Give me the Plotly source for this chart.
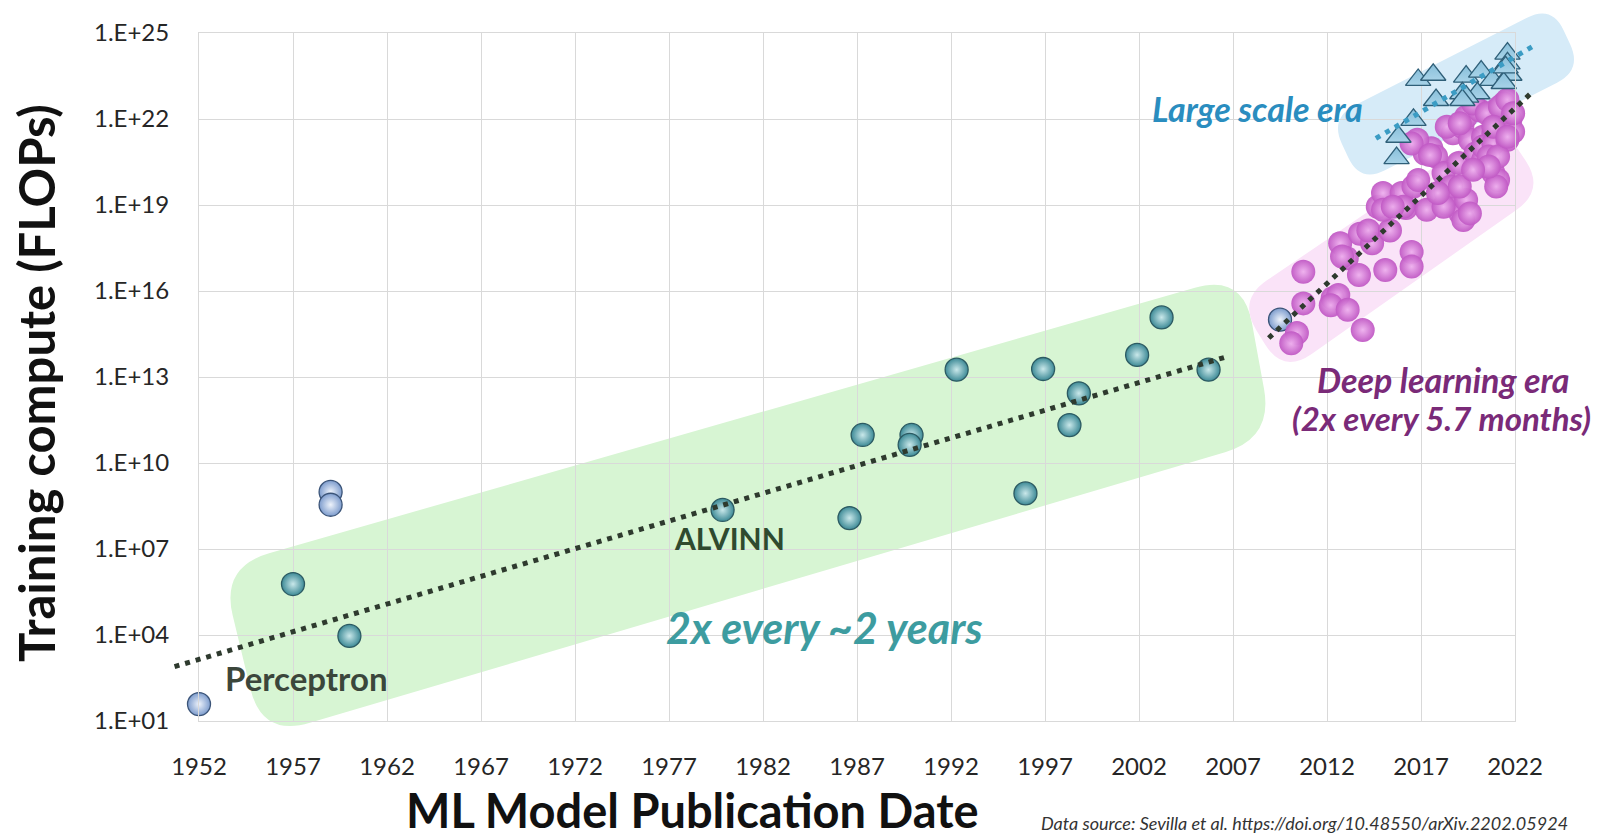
import math
import plotly.graph_objects as go

# ---------------- data ----------------
early_years = [1957.0, 1960.0, 1979.85, 1986.6, 1987.3, 1989.9, 1989.8, 1992.3, 1996.9,
               1998.8, 1998.3, 1995.96, 2001.9, 2003.2, 2005.7]
early_flops = [6.0e5, 9.3e3, 2.3e8, 1.2e8, 9.5e10, 9.5e10, 4.3e10, 1.8e13, 1.9e13,
               2.7e12, 2.1e11, 8.7e8, 5.9e13, 1.2e15, 1.8e13]

other_years = [1952.0, 1959.0, 1959.0, 2009.5]
other_flops = [3.9e1, 9.8e8, 3.5e8, 1.0e15]

dl_years = [2010.74, 2010.74, 2010.4, 2010.1, 2012.3, 2012.6, 2012.2, 2013.1, 2013.9, 2012.7,
            2013.05, 2013.7, 2013.75, 2014.4, 2014.2, 2014.7, 2014.98, 2015.35, 2015.1, 2015.97,
            2016.2, 2016.5, 2016.5, 2016.6, 2012.8, 2014.98, 2016.06, 2016.85, 2017.3, 2017.2,
            2017.55, 2017.8, 2018.2, 2018.3, 2018.35, 2018.6, 2019.1, 2019.25, 2019.0, 2018.7,
            2019.2, 2019.4, 2019.6, 2019.9, 2020.3, 2020.5, 2020.85, 2021.1, 2020.3, 2020.85,
            2021.4, 2021.75, 2021.9, 2021.4, 2021.0, 2020.1, 2019.78, 2020.3, 2020.85, 2021.6,
            2019.4, 2019.6, 2018.2, 2017.9, 2020.6, 2021.1, 2021.0, 2020.6, 2015.5, 2016.8,
            2016.5, 2017.48, 2018.37, 2019.06, 2020.5, 2021.2, 2021.6, 2021.9, 2020.85, 2021.6,
            2019.06, 2019.77]
dl_flops = [4.7e16, 3.7e15, 3.4e14, 1.5e14, 5.6e15, 7.2e15, 3.2e15, 2.2e15, 4.4e14, 4.6e17,
            1.4e17, 3.6e16, 1.0e18, 4.6e17, 1.3e18, 8.7e18, 2.6e19, 1.3e18, 5.4e16, 2.6e19,
            7.8e18, 2.3e17, 7.1e16, 4.4e19, 1.6e17, 6.8e18, 8.7e18, 7.4e19, 6.8e18, 6.3e20,
            9.5e20, 4.9e20, 1.3e20, 2.9e19, 1.1e19, 4.4e19, 5.1e18, 3.0e18, 2.9e20, 3.2e21,
            5.4e21, 1.2e22, 1.9e21, 6.3e20, 3.7e20, 2.2e20, 1.3e20, 7.4e19, 2.4e21, 3.2e21,
            5.4e21, 9.3e21, 3.6e21, 3.5e22, 2.0e22, 2.0e22, 3.5e22, 1.1e21, 1.4e21, 1.9e21,
            1.5e19, 5.1e18, 8.7e18, 2.6e19, 4.9e20, 4.9e20, 4.4e19, 2.2e20, 8.7e18, 1.9e21,
            1.4e21, 5.5e20, 5.4e21, 7.1e21, 1.6e22, 2.7e22, 4.7e22, 1.6e22, 5.4e21, 2.4e21,
            4.4e19, 1.7e20]

ls_years = [2015.7, 2015.8, 2016.6, 2016.85, 2017.65, 2017.8, 2019.4, 2019.2, 2020.2,
            2020.0, 2020.8, 2021.6, 2021.6, 2021.7, 2021.4, 2019.4, 2019.2, 2021.5]
ls_flops = [4.3e20, 2.4e21, 9.3e21, 2.3e23, 3.5e23, 4.6e22, 3.0e23, 7.9e22, 4.5e23,
            7.9e22, 2.3e23, 1.9e24, 8.7e23, 3.5e23, 1.8e23, 6.0e22, 4.6e22, 6.3e23]

trend_early_x = [1950.7, 2006.8]
trend_early_y = [7.9e2, 5.4e13]
trend_dl_x = [2008.9, 2023.0]
trend_dl_y = [2.3e14, 9.8e22]
trend_ls_x = [2014.6, 2022.9]
trend_ls_y = [2.1e21, 3.3e24]

x_ticks = list(range(1952, 2023, 5))
y_tick_vals = [1e1, 1e4, 1e7, 1e10, 1e13, 1e16, 1e19, 1e22, 1e25]
y_tick_text = ["1.E+01", "1.E+04", "1.E+07", "1.E+10", "1.E+13", "1.E+16",
               "1.E+19", "1.E+22", "1.E+25"]

# ---------------- layout geometry ----------------
OFF = 0
SW, SH = 1603, 838
FW, FH = SW - 2 * OFF, SH - 2 * OFF
PL, PR, PT, PB = 199, 1515, 33, 721      # plot area in window pixels
X0, X1 = 1952, 2022
LY0, LY1 = 1, 25

def px(x):
    return (x - OFF) / FW

def py(y):
    return 1 - (y - OFF) / FH

xs = (X1 - X0) / (PR - PL)
ys = (LY1 - LY0) / (PB - PT)
x2_range = [X0 - (PL - OFF) * xs, X1 + (SW - OFF - PR) * xs]
y2_range = [LY0 - (SH - OFF - PB) * ys, LY1 + (PT - OFF) * ys]

FONT = "Lato"

def rounded_path(pts, r):
    n = len(pts)
    segs = []
    for i in range(n):
        p0, p1, p2 = pts[i - 1], pts[i], pts[(i + 1) % n]
        d1 = (p0[0] - p1[0], p0[1] - p1[1]); l1 = math.hypot(*d1)
        d2 = (p2[0] - p1[0], p2[1] - p1[1]); l2 = math.hypot(*d2)
        a = (p1[0] + d1[0] / l1 * r, p1[1] + d1[1] / l1 * r)
        b = (p1[0] + d2[0] / l2 * r, p1[1] + d2[1] / l2 * r)
        segs.append((a, p1, b))
    path = f"M {px(segs[0][0][0]):.5f},{py(segs[0][0][1]):.5f}"
    for i, (a, c, b) in enumerate(segs):
        if i > 0:
            path += f" L {px(a[0]):.5f},{py(a[1]):.5f}"
        path += f" Q {px(c[0]):.5f},{py(c[1]):.5f} {px(b[0]):.5f},{py(b[1]):.5f}"
    return path + " Z"

green_band = [(221, 567), (1243, 274), (1273, 438), (262, 737)]
pink_band = [(1238, 300), (1500, 122), (1545, 190), (1283, 374)]
blue_band = [(1330, 118), (1552, 5), (1582, 70), (1360, 183)]

shapes = [
    dict(type="path", xref="paper", yref="paper", path=rounded_path(green_band, 50),
         fillcolor="#d7f5d3", line=dict(width=0), layer="below"),
    dict(type="path", xref="paper", yref="paper", path=rounded_path(pink_band, 35),
         fillcolor="#fae3f8", line=dict(width=0), layer="below"),
    dict(type="path", xref="paper", yref="paper", path=rounded_path(blue_band, 28),
         fillcolor="#d6ebf8", line=dict(width=0), layer="below"),
]

fig = go.Figure()

fig.add_trace(go.Scatter(
    x=early_years, y=early_flops, mode="markers", cliponaxis=False,
    marker=dict(size=23, color="#3d8a96", gradient=dict(type="radial", color="#c9e8ea"),
                line=dict(color="#2c5a62", width=1.3)),
    showlegend=False, hoverinfo="skip"))
fig.add_trace(go.Scatter(
    x=other_years, y=other_flops, mode="markers", cliponaxis=False,
    marker=dict(size=23, color="#7d9ccd", gradient=dict(type="radial", color="#eef3fb"),
                line=dict(color="#3b5478", width=1.3)),
    showlegend=False, hoverinfo="skip"))
fig.add_trace(go.Scatter(
    x=dl_years, y=dl_flops, mode="markers", cliponaxis=False,
    marker=dict(size=24, color="#c058c4", gradient=dict(type="radial", color="#eeb0ee"),
                line=dict(width=0), opacity=0.95),
    showlegend=False, hoverinfo="skip"))
fig.add_trace(go.Scatter(
    x=ls_years, y=ls_flops, mode="markers", cliponaxis=False,
    marker=dict(size=22, symbol="triangle-up", color="#88bfda",
                gradient=dict(type="vertical", color="#a8d3e8"),
                line=dict(color="#2f5f78", width=1.3)),
    showlegend=False, hoverinfo="skip"))

# trend lines on an overlay subplot spanning the whole figure (same scale)
for tx, ty, col in [(trend_early_x, trend_early_y, "#2e3a2e"),
                    (trend_dl_x, trend_dl_y, "#2e3a2e"),
                    (trend_ls_x, trend_ls_y, "#3b9cc4")]:
    fig.add_trace(go.Scatter(
        x=tx, y=ty, mode="lines", xaxis="x2", yaxis="y2",
        line=dict(color=col, width=5, dash="5px,6px"),
        showlegend=False, hoverinfo="skip"))

axis_common = dict(showgrid=True, gridcolor="#d9d9d9", gridwidth=1, zeroline=False,
                   showline=True, linecolor="#d9d9d9", linewidth=1, mirror=True,
                   ticks="", tickfont=dict(family=FONT, size=24, color="#262626"),
                   ticklabelstandoff=24, automargin=False)

annotations = [
    dict(x=px(306), y=py(678), text="<b>Perceptron</b>",
         font=dict(family=FONT, size=33, color="#3b463b")),
    dict(x=px(729), y=py(538), text="<b>ALVINN</b>",
         font=dict(family=FONT, size=30, color="#2f4a2f")),
    dict(x=px(824), y=py(627), text="<b><i>2x every ~2 years</i></b>",
         font=dict(family=FONT, size=43, color="#3d9ca0")),
    dict(x=px(1257), y=py(108), text="<b><i>Large scale era</i></b>",
         font=dict(family=FONT, size=34, color="#2a8dbf")),
    dict(x=px(1443), y=py(379), text="<b><i>Deep learning era</i></b>",
         font=dict(family=FONT, size=34, color="#7a2a78")),
    dict(x=px(1441), y=py(418), text="<b><i>(2x every 5.7 months)</i></b>",
         font=dict(family=FONT, size=33, color="#7a2a78")),
    dict(x=px(36), y=py(383), text="<b>Training compute (FLOPs)</b>", textangle=-90,
         font=dict(family=FONT, size=49, color="#111111")),
    dict(x=px(692), y=py(810), text="<b>ML Model Publication Date</b>",
         font=dict(family=FONT, size=47, color="#111111")),
    dict(x=px(1304), y=py(823),
         text="<i>Data source: Sevilla et al. https://doi.org/10.48550/arXiv.2202.05924</i>",
         font=dict(family=FONT, size=18, color="#333333")),
]
for a in annotations:
    a.update(xref="paper", yref="paper", showarrow=False, xanchor="center", yanchor="middle")

fig.update_layout(
    width=FW, height=FH, autosize=False,
    margin=dict(l=0, r=0, t=0, b=0, pad=0, autoexpand=False),
    paper_bgcolor="white",
    plot_bgcolor="rgba(0,0,0,0)",
    showlegend=False,
    shapes=shapes,
    annotations=annotations,
    xaxis=dict(domain=[px(PL), px(PR)], range=[X0, X1], tickvals=x_ticks,
               ticktext=[str(t) for t in x_ticks], anchor="y", **axis_common),
    yaxis=dict(domain=[py(PB), py(PT)], type="log", range=[LY0, LY1],
               tickvals=y_tick_vals, ticktext=y_tick_text, anchor="x", **axis_common),
    xaxis2=dict(domain=[0, 1], range=x2_range, visible=False, anchor="y2", automargin=False),
    yaxis2=dict(domain=[0, 1], type="log", range=y2_range, visible=False, anchor="x2",
                automargin=False),
)

# remove the default 8px page margin so the figure fills the window exactly
fig.write_html("out.html",
               config={"displayModeBar": False},
               post_script="document.body.style.margin='0px';"
                           "document.body.style.overflow='hidden';")
